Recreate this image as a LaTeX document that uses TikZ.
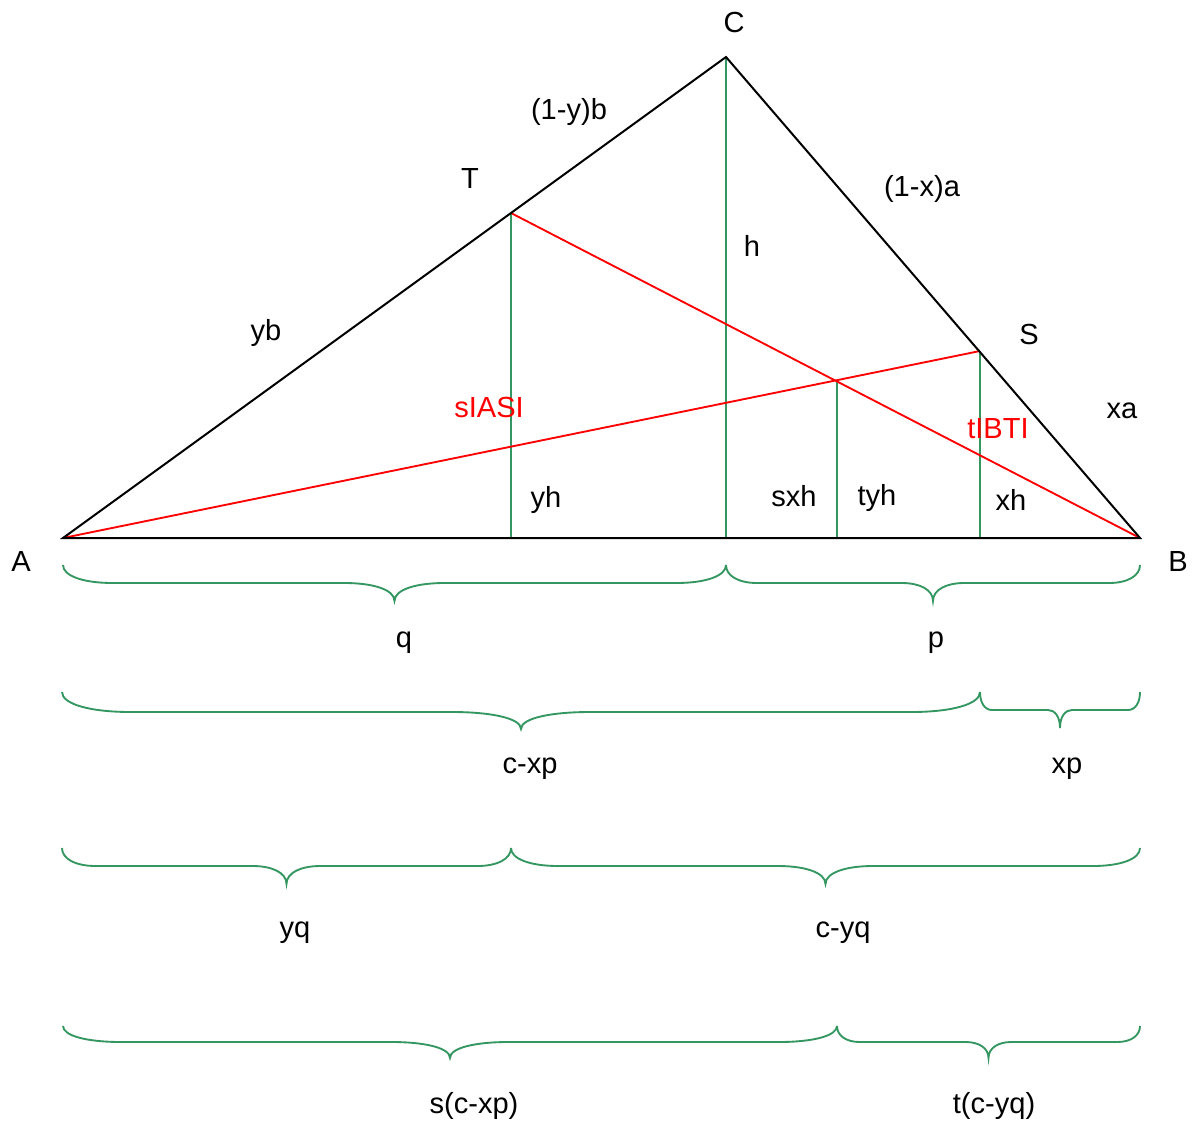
\documentclass[tikz,border=0pt]{standalone}
\usepackage{fontspec}
\setmainfont{Liberation Sans}
\usetikzlibrary{calc}
\definecolor{gbr}{RGB}{52,150,96}
\tikzset{
  bline/.style={black,line width=1.5pt},
  rline/.style={red,line width=1.4pt},
  gline/.style={gbr,line width=1.4pt},
  lbl/.style={font=\fontsize{21.8}{24}\selectfont,inner sep=0pt},
  rlbl/.style={lbl,text=red},
}
\newcommand{\gbrace}[5]{%
  \pgfmathsetmacro\bmid{(#1+#2)/2}%
  \pgfmathsetmacro\brr{0.075*(#2-#1)}%
  \draw[gline] (#1,#3) .. controls (#1,{#3+0.6*(#4-#3)}) and ({#1+0.4*\brr},#4) .. ({#1+\brr},#4)
    -- ({\bmid-\brr},#4) .. controls ({\bmid-0.45*\brr},#4) and (\bmid,{#4+0.35*(#5-#4)}) .. (\bmid,#5)
    .. controls (\bmid,{#4+0.35*(#5-#4)}) and ({\bmid+0.45*\brr},#4) .. ({\bmid+\brr},#4)
    -- ({#2-\brr},#4) .. controls ({#2-0.4*\brr},#4) and (#2,{#3+0.6*(#4-#3)}) .. (#2,#3);
}
\begin{document}
\begin{tikzpicture}[x=0.75pt,y=-0.75pt]
\fill[white] (0,0) rectangle (1196,1122);
\useasboundingbox (0,0) rectangle (1196,1122);
% points
\coordinate (A) at (63,538);
\coordinate (B) at (1140,538);
\coordinate (C) at (726,57);
\coordinate (T) at (511,213);
\coordinate (S) at (980,351);
\coordinate (X) at (intersection of A--S and B--T);
\coordinate (Xv) at ($(X)+(2,0)$);
\coordinate (Tf) at (T |- A);
\coordinate (Cf) at (C |- A);
\coordinate (Xf) at (Xv |- A);
\coordinate (Sf) at (S |- A);
% green verticals
\draw[gline] (T) -- (Tf);
\draw[gline] (C) -- (Cf);
\draw[gline] (Xv) -- (Xf);
\draw[gline] (S) -- (Sf);
% red cevians
\draw[rline] (A) -- (S);
\draw[rline] (B) -- (T);
% triangle
\draw[bline,line join=miter] (A) -- (B) -- (C) -- cycle;
% vertex labels
\node[lbl] (lC) at (734,22) {C};
\node[lbl] (lA) at (21,561) {A};
\node[lbl] (lB) at (1178,561) {B};
\node[lbl] (lT) at (470,178) {T};
\node[lbl] (lS) at (1029,334) {S};
% side labels
\node[lbl] (l1yb) at (569,112) {(1-y)b};
\node[lbl] (l1xa) at (922,189) {(1-x)a};
\node[lbl] (lh) at (752,246) {h};
\node[lbl] (lyb) at (266,333) {yb};
\node[lbl] (lxa) at (1122,411) {xa};
\node[rlbl] (lsAS) at (489,407) {sIASI};
\node[rlbl] (ltBT) at (998,429) {tIBTI};
\node[lbl] (lyh) at (546,500) {yh};
\node[lbl] (lsxh) at (794,496) {sxh};
\node[lbl] (ltyh) at (877,498) {tyh};
\node[lbl] (lxh) at (1011,500) {xh};
% braces
\gbrace{63}{726}{565}{583}{601}
\gbrace{726}{1140}{565}{583}{601}
\gbrace{62}{980}{692}{712}{729}
\gbrace{980}{1140}{692}{710}{728}
\gbrace{62}{511}{848}{866}{884}
\gbrace{511}{1140}{848}{866}{884}
\gbrace{63}{837}{1026}{1042}{1058}
\gbrace{837}{1140}{1026}{1042}{1058}
% brace labels
\node[lbl] (lq) at (404,643) {q};
\node[lbl] (lp) at (936,643) {p};
\node[lbl] (lcxp) at (530,769) {c-xp};
\node[lbl] (lxp) at (1067,769) {xp};
\node[lbl] (lyq) at (295,933) {yq};
\node[lbl] (lcyq) at (843,933) {c-yq};
\node[lbl] (lscxp) at (474,1106) {s(c-xp)};
\node[lbl] (ltcyq) at (994,1106) {t(c-yq)};
\end{tikzpicture}
\end{document}
